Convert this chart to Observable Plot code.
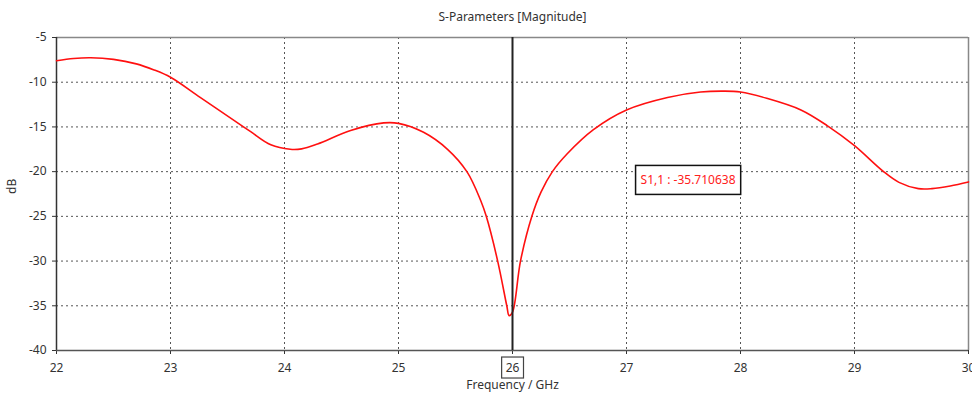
<!DOCTYPE html>
<html><head><meta charset="utf-8">
<script src="https://cdn.jsdelivr.net/npm/d3@7"></script>
<script src="https://cdn.jsdelivr.net/npm/@observablehq/plot@0.6"></script>
<style>
body{margin:0;background:#fff;}
#chart{position:relative;width:972px;height:394px;}
</style></head><body><div id="chart"></div>
<script>
const freq = [22.0,22.15,22.3,22.5,22.7,22.85,23.0,23.26,23.56,23.7,23.88,24.05,24.15,24.29,24.58,24.87,25.0,25.22,25.43,25.6,25.72,25.77,25.87,25.95,25.97,26.0,26.07,26.17,26.25,26.35,26.48,26.71,27.0,27.36,27.65,27.85,28.0,28.23,28.53,28.76,29.0,29.25,29.39,29.56,29.68,29.84,30.0];
const s11  = [-7.6,-7.35,-7.27,-7.45,-7.95,-8.6,-9.45,-11.7,-14.3,-15.5,-17.0,-17.5,-17.45,-16.9,-15.4,-14.55,-14.6,-15.6,-17.5,-20.0,-23.2,-25.0,-30.0,-35.0,-36.1,-35.71,-30.0,-25.0,-22.3,-20.0,-18.0,-15.3,-13.1,-11.7,-11.1,-11.0,-11.1,-11.8,-13.1,-14.85,-17.1,-19.95,-21.2,-21.9,-21.9,-21.6,-21.15];
const xTicks = [22,23,24,25,26,27,28,29,30];
const yTicks = [-5,-10,-15,-20,-25,-30,-35,-40];
const markerFreq = 26;
const markerLabel = "S1,1 : -35.710638";
const markerLabelPos = {x: 27.54, y: -21};
const titleText = "S-Parameters [Magnitude]";
const xLabel = "Frequency / GHz";
const yLabel = "dB";

const data = freq.map((f,i)=>({f, v:s11[i]}));
const font = "'Noto Sans', sans-serif";

const plot = Plot.plot({
  width: 972, height: 394,
  marginLeft: 56, marginRight: 4, marginTop: 37, marginBottom: 44,
  style: {fontFamily: font, fontSize: "12px", color: "#333", background: "#fff"},
  x: {domain: [22,30], ticks: xTicks, tickSize: 4, tickPadding: 9, label: null, tickFormat: d=>String(d)},
  y: {domain: [-40,-5], ticks: yTicks, tickSize: 4, tickPadding: 6, label: null, tickFormat: d=>String(d)},
  marks: [
    Plot.gridX(xTicks.slice(1,-1), {stroke: "#555", strokeOpacity: 1, strokeDasharray: "2,3", strokeWidth: 1}),
    Plot.gridY(yTicks.slice(1,-1), {stroke: "#555", strokeOpacity: 1, strokeDasharray: "2,3", strokeWidth: 1}),
    Plot.ruleY([-5], {stroke: "#888", strokeWidth: 1.5}),
    Plot.ruleX([30], {stroke: "#888", strokeWidth: 1.5}),
    Plot.ruleX([22], {stroke: "#333", strokeWidth: 1.5}),
    Plot.ruleY([-40], {stroke: "#555", strokeWidth: 1.5}),
    Plot.line(data, {x: "f", y: "v", stroke: "#ff1010", strokeWidth: 1.6, curve: "catmull-rom"}),
    Plot.ruleX([markerFreq], {stroke: "#222", strokeWidth: 2}),
    Plot.text([markerLabelPos], {x: "x", y: "y", text: () => markerLabel, fill: "#ff2020", fontSize: 12}),
    Plot.text([titleText], {frameAnchor: "top", dy: -25, text: d=>d, fill: "#333", fontSize: 12}),
    Plot.text([xLabel], {frameAnchor: "bottom", dy: 38, text: d=>d, fill: "#333", fontSize: 12}),
    Plot.text([yLabel], {frameAnchor: "left", dx: -44, rotate: -90, text: d=>d, fill: "#333", fontSize: 12})
  ]
});
document.getElementById("chart").appendChild(plot);

const svg = d3.select(plot);
svg.selectAll("g[aria-label='x-axis tick label'] text").each(function(){
  if (this.textContent.trim() === String(markerFreq)) {
    const b = this.getBBox();
    d3.select(this.parentNode).append("rect")
      .attr("x", b.x - 4).attr("y", b.y - 2)
      .attr("width", b.width + 8).attr("height", b.height + 4)
      .attr("transform", this.getAttribute("transform"))
      .attr("fill", "none").attr("stroke", "#444").attr("stroke-width", 1.2);
  }
});
svg.selectAll("g[aria-label='text'] text").each(function(){
  if (this.textContent === markerLabel) {
    const b = this.getBBox();
    d3.select(this.parentNode).insert("rect", ":first-child")
      .attr("x", b.x - 5).attr("y", b.y - 6)
      .attr("width", b.width + 10).attr("height", b.height + 12)
      .attr("transform", this.getAttribute("transform"))
      .attr("fill", "#fff").attr("stroke", "#111").attr("stroke-width", 1.5);
  }
});
</script></body></html>
